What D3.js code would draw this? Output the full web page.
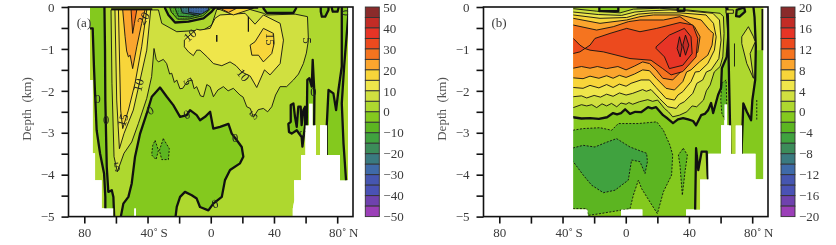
<!DOCTYPE html>
<meta charset="utf-8">
<script src="https://d3js.org/d3.v7.min.js"></script>
<style>
  html, body { margin: 0; background: #fff; }
  svg { display: block; font-family: "Liberation Serif", serif; filter: blur(0.3px); }
  .tick text { font-family: "Liberation Serif", serif; font-size: 13px; fill: #3a3a3a; }
</style>
<body>
<div id="graph"></div>
<script>
  // colour boxes of the bar, top to bottom
  var boxColors = ['#8a2b2b','#c32c26','#e73426','#ec4a1e','#f5741f','#fba52e','#f8d53a','#efe64b','#d0e040','#aed82f',
    '#84c91e','#5cb521','#40a23f','#3c8c5a','#3a7a80','#3f6aa8','#4656b0','#4a52b5','#6f42ae','#9b3fb8'];
  var barLabelsA = [50,40,30,20,10,0,-10,-20,-30,-40,-50];
  var barLabelsB = [20,16,12,8,4,0,-4,-8,-12,-16,-20];
  var depthTicks = [0,-0.5,-1,-1.5,-2,-2.5,-3,-3.5,-4,-4.5,-5];
  var latTicks = [-80,-60,-40,-20,0,20,40,60,80];

  // all contours below are [latitude, depth km]
  // panel (a)
  var aOcean = [[-76.4,0],[-76.4,-1.74],[-74.7,-1.74],[-74.7,-3.49],[-73.2,-3.49],[-73.2,-4.13],[-69,-4.13],[-69,-4.8],[-61.6,-4.8],[-61.6,-5],[-48.5,-5],[-48.5,-4.8],[-47.3,-4.8],[-47.3,-5],[51.9,-5],[51.9,-4.81],[52.9,-4.61],[52.7,-4.13],[57.1,-4.13],[57.1,-3.53],[59.9,-3.53],[59.9,-2.82],[62.2,-2.82],[62.2,-2.3],[64.5,-2.3],[64.5,-2.82],[66.6,-2.82],[66.6,-3.53],[69.2,-3.53],[69.2,-2.82],[73.6,-2.82],[73.6,-3.53],[81.8,-3.53],[81.8,-4.13],[86.9,-4.13],[86.9,0]];
  var aZeroWest = [[-80,0.1],[-80,-0.51],[-74.7,-0.51],[-73.9,-1.42],[-73.2,-2.06],[-72.2,-2.94],[-70,-3.5],[-67.5,-3.97],[-66.7,-4.53],[-66.7,-5.1],[-61,-5.1],[-61.6,-4.53],[-62.6,-4.37],[-64.8,-4.41],[-65.8,-3.81],[-66.7,-2.22],[-66.9,-1.03],[-67.3,0.1]];
  var aZeroDeep = [[-57.4,-5.1],[-55.3,-4.69],[-52.1,-4.53],[-50,-4.21],[-47.9,-3.57],[-44.7,-3.02],[-40.5,-2.54],[-37.3,-2.14],[-32.1,-1.92],[-27.8,-2.14],[-23.7,-2.34],[-19.4,-2.62],[-15.2,-2.58],[-13.1,-2.46],[-8.9,-2.58],[-6.8,-2.7],[-3.6,-2.62],[-0.4,-2.5],[1.6,-2.9],[5.9,-2.86],[11.2,-2.79],[13.3,-3.02],[16.5,-3.18],[19.6,-3.34],[20.6,-3.57],[18.5,-3.73],[12.2,-3.89],[9,-4.13],[7,-4.53],[1.6,-4.69],[-1.5,-4.85],[-6.8,-4.77],[-8.9,-4.57],[-12,-4.49],[-16.3,-4.41],[-19.4,-4.53],[-21.5,-4.77],[-22.6,-5.1]];
  var aPos5 = [[-63.1,-0.07],[-62.5,-1.82],[-61.2,-3.57],[-59.1,-3.93],[-54.9,-3.49],[-50,-3.22],[-45.8,-2.78],[-40.5,-2.18],[-37.4,-1.66],[-35.9,-0.99],[-34.5,-1.25],[-33.1,-1.31],[-30,-1.25],[-27.9,-1.35],[-26,-1.6],[-24.7,-1.58],[-23,-1.8],[-21.5,-1.74],[-19.5,-1.95],[-17.7,-1.94],[-15,-1.78],[-12,-1.74],[-10.5,-1.95],[-8.9,-1.9],[-6.5,-2.12],[-4.6,-2.14],[-2.5,-1.85],[-0.4,-1.9],[1.7,-2.14],[4.5,-1.98],[8,-1.9],[11,-2],[14.3,-1.94],[18.5,-2.1],[20.5,-2.15],[22.8,-2.38],[25,-2.42],[27,-2.63],[30,-2.45],[33.3,-2.42],[36,-2.5],[38.6,-2.38],[41,-2.1],[43.9,-1.9],[48,-1.9],[52.3,-1.74],[55.5,-1.6],[58.6,-1.35],[60.5,-1.1],[61.8,-0.79],[61.2,-0.23],[53.4,-0.17],[35.4,-0.19],[33.3,-0.15],[24.9,-0.06],[3.8,-0.06],[2.7,-0.19],[0.6,-0.43],[-4.6,-0.55],[-21.5,-0.59],[-31,-0.39],[-33.1,-0.07],[-36.3,-0.07]];
  var aPos10 = [[-60.6,-0.07],[-59.5,-2.22],[-57.8,-3.38],[-54.9,-3.02],[-49,-2.46],[-44.7,-1.74],[-40.5,-1.03],[-38,-0.07]];
  var aPos15 = [[-58.4,-0.07],[-57,-2.46],[-55.7,-2.9],[-52.1,-2.46],[-47.9,-1.82],[-43.7,-0.95],[-40.5,-0.07]];
  var aPos20 = [[-55.7,-0.07],[-54.2,-0.71],[-53.2,-1.05],[-52.1,-1.19],[-51,-1.15],[-49.4,-1.47],[-46.8,-0.95],[-43.7,-0.39],[-41.6,-0.07]];
  var aPos25 = [[-50.4,-0.07],[-49.4,-0.63],[-48.3,-0.39],[-46.8,-0.07]];
  var aPos10East = [[-16.7,-0.79],[-12,-0.63],[-8.9,-0.53],[-6.8,-0.55],[-0.4,-0.51],[2.7,-0.27],[5.9,-0.19],[14.3,-0.17],[21.7,-0.15],[28,-0.41],[33.3,-0.19],[43.9,-0.39],[46,-0.79],[43.9,-1.35],[37.5,-1.62],[34,-1.5],[29.1,-1.92],[25,-1.65],[19.6,-1.55],[16,-1.4],[12.2,-1.31],[7,-1.4],[1.7,-1.35],[-2,-1.2],[-6.8,-1.03],[-8.9,-1.03],[-11,-1.16],[-14.1,-1.07],[-16.7,-0.95]];
  var aPos15East = [[24.9,-0.91],[28,-0.83],[33.3,-0.51],[39.7,-0.63],[40.1,-0.87],[38.6,-1.11],[33.3,-1.31],[30.2,-1.15],[26,-1.15]];
  var aPos15Top = [[3.8,-0.03],[14.3,-0.19],[27,-0.03]];
  var aPos20Top = [[5.9,-0.03],[11.2,-0.13],[16.4,-0.03]];
  var aZeroPool = [[-29,0.1],[-28.9,-0.03],[-26.8,-0.19],[-22.6,-0.37],[-14.1,-0.35],[-4.6,-0.27],[0.6,-0.11],[2.7,-0.01],[3,0.1]];
  var aNeg5Pool = [[-27,0.1],[-25,-0.12],[-21,-0.29],[-14,-0.29],[-5,-0.21],[-0.5,-0.06],[0,0.1]];
  var aNeg10Pool = [[-24,0.1],[-20.5,-0.22],[-13,-0.24],[-6,-0.15],[-2,-0.02],[-1.5,0.1]];
  var aNeg20Pool = [[-20,0.1],[-18,-0.14],[-8,-0.2],[-3,-0.08],[-3,0.1]];
  var aNeg25Pool = [[-14,0.1],[-14,-0.13],[-6,-0.17],[-1.5,-0.07],[-1.5,0.1]];
  var aBlob1 = [[33.3,0.1],[33.3,-0.03],[35.4,-0.14],[52.3,-0.14],[54,-0.03],[54,0.1]];
  var aBlob2 = [[69.6,0.1],[69.6,-0.11],[70.3,-0.23],[72.4,-0.23],[74.5,-0.07],[74.5,0.1]];
  var aBlob3 = [[76.6,0.1],[76.6,-0.03],[77.2,-0.11],[80.2,-0.11],[80.8,-0.03],[80.8,0.1]];
  var aZeroEast = [[82.9,0.1],[82.9,-1.42],[80.8,-1.98],[79.3,-2.46],[77.6,-2.06],[74.5,-1.98],[73.4,-2.82],[73.4,-4.2],[85.6,-4.4],[85.6,-4.13],[84,-3.26],[82.9,-2.3],[84.4,-1.42],[87.1,-0.15],[87.1,0.1]];
  var aZeroSpike = [[61.1,-1.74],[62.4,-1.7],[63.9,-1.9],[64.5,-1.26],[65.6,-2.06],[65.4,-2.9],[60.7,-2.9]];
  var aZeroScribble = [[50.6,-2.34],[52.3,-2.3],[53.3,-2.62],[54.4,-2.86],[55.4,-2.38],[56.9,-2.38],[57.5,-2.82],[58.6,-2.46],[59.7,-2.38],[59.7,-2.82],[58,-3.33],[57.5,-3.1],[54.4,-2.94],[51.2,-3.02],[49.5,-2.98],[49.1,-2.79],[50.6,-2.74]];
  var aNegPatch1 = [[-35.2,-3.18],[-33.1,-3.42],[-34.6,-3.64],[-37.4,-3.53],[-36.7,-3.3]];
  var aNegPatch2 = [[-30,-3.14],[-26.2,-3.38],[-26.8,-3.64],[-31,-3.64],[-32.5,-3.42]];
  var aCap = [[-63,-0.05],[-37,-0.05]];
  var aCapEast = [[0,-0.02],[30,-0.02]];
  var aDash1 = [[3.8,-0.67],[3.8,-0.83]];
  var aDash2 = [[23.8,-0.23],[23.8,-0.59]];
  var aLabelText = ['20','10','15','0','0','0','5','5','10','0','15','10','5','5','0','0','0','5','0'];
  var aLabelPos = [[-42.6,-0.27],[-45.8,-1.86],[-55.7,-2.7],[-66.2,-2.68],[-71.5,-2.18],[-38.4,-2.46],[-59.5,-3.81],[-14.1,-1.77],[-13.1,-0.67],[-15.2,-2.56],[38,-0.77],[20.7,-1.62],[61.2,-0.8],[27,-2.58],[65,-2.02],[15.4,-3.12],[2.7,-4.69],[59,-3.02],[86,-0.14]];
  var aLabelTurn = [-60,-75,-75,0,0,-30,-10,60,-40,-20,90,50,90,-45,0,0,-20,90,90];

  // panel (b)
  var bOcean = [[87.1,0],[87.1,-4.11],[82.1,-4.11],[82.1,-3.5],[73.6,-3.5],[73.6,-2.82],[69.4,-2.82],[69.4,-3.5],[66.7,-3.5],[66.7,-2.82],[64.1,-2.82],[64.1,-2.32],[62.4,-2.32],[62.4,-2.82],[60.3,-2.82],[60.3,-3.5],[52.3,-3.5],[52.3,-4.11],[47,-4.11],[47,-4.83],[38.2,-4.83],[38.2,-5],[10.5,-5],[10.5,-4.83],[-3,-4.83],[-3,-5],[-24.1,-5],[-24.1,-4.83],[-33.2,-4.83],[-33.2,0]];
  var bZero = [[-40,0.1],[-40,-2.63],[-33.4,-2.63],[-28,-2.66],[-22.6,-2.65],[-17,-2.67],[-11.8,-2.63],[-8,-2.53],[-5.5,-2.56],[-3,-2.53],[-0.4,-2.44],[2.7,-2.55],[6,-2.5],[9.7,-2.51],[14.1,-2.39],[16.5,-2.42],[19.2,-2.39],[23.6,-2.58],[26.5,-2.66],[29.9,-2.77],[33,-2.68],[36.3,-2.65],[39.5,-2.68],[42.6,-2.72],[44.5,-2.82],[47.7,-2.58],[50,-2.55],[52.1,-2.46],[54,-2.29],[55.3,-2.53],[58.4,-2.1],[60.3,-1.93],[60.8,-1.46],[63.9,-1.19],[65,-0.63],[63.9,-0.07],[63,0.1]];
  var bPos2 = [[-40,-0.04],[-33.2,-0.04],[-18.4,-0.1],[-3.6,-0.14],[4.8,-0.05],[21.3,-0.03],[38.6,-0.07],[59.7,-0.15],[61.8,-0.23],[62.2,-0.63],[61.4,-1.19],[59.7,-1.42],[56,-1.55],[53.4,-1.86],[51,-2],[49.2,-2.22],[44.9,-2.38],[42,-2.36],[38.6,-2.5],[34,-2.58],[29.7,-2.62],[27,-2.5],[24.5,-2.42],[20.2,-2.22],[17,-2.25],[13.9,-2.21],[8.6,-2.26],[4.4,-2.32],[2,-2.28],[0.2,-2.32],[-3,-2.29],[-5.7,-2.38],[-9,-2.3],[-12.1,-2.36],[-15,-2.31],[-18.4,-2.4],[-21.5,-2.33],[-24.7,-2.36],[-28,-2.33],[-33.2,-2.4],[-40,-2.4]];
  var bPos4 = [[-40,-0.12],[-33.2,-0.12],[-17.4,-0.18],[-2.6,-0.2],[5.8,-0.12],[15.3,-0.09],[28,-0.07],[38.2,-0.09],[55.1,-0.15],[59.3,-0.31],[60.3,-0.79],[58.9,-1.23],[54,-1.5],[51,-1.55],[48.7,-1.74],[45,-1.82],[42.4,-2.06],[37.1,-2.26],[34,-2.32],[31.9,-2.42],[26.6,-2.38],[21.3,-2.18],[16,-1.97],[13,-2.01],[10.7,-1.97],[4.4,-2.06],[0.2,-2.1],[-4,-2.05],[-8,-2.13],[-12.1,-2.08],[-16,-2.15],[-20,-2.11],[-24.7,-2.17],[-28,-2.12],[-33.2,-2.14],[-40,-2.14]];
  var bPos6 = [[-40,-0.19],[-33.2,-0.19],[-16.3,-0.27],[0.6,-0.25],[8,-0.17],[17.5,-0.14],[34.3,-0.14],[50.8,-0.19],[55.5,-0.39],[57.2,-0.71],[56.1,-1.03],[51.9,-1.35],[46.6,-1.54],[44,-1.55],[41.3,-1.78],[36.1,-2.02],[33,-2.1],[30.8,-2.22],[25.5,-2.18],[19.2,-1.92],[15,-1.74],[9.7,-1.74],[3.4,-1.82],[0.2,-1.89],[-4,-1.84],[-8,-1.92],[-12.1,-1.85],[-17,-1.93],[-22.6,-1.87],[-27,-1.94],[-33.2,-1.92],[-40,-1.92]];
  var bPos8 = [[-40,-0.27],[-33.2,-0.27],[-16.3,-0.39],[0.6,-0.31],[9,-0.23],[17.5,-0.19],[34.3,-0.19],[47.7,-0.31],[53,-0.55],[55.5,-0.63],[54.6,-0.91],[51.9,-1.15],[46.6,-1.31],[41.3,-1.5],[38.5,-1.55],[36.1,-1.78],[30.8,-1.98],[25.5,-1.94],[19.2,-1.7],[15,-1.52],[10.7,-1.5],[5.5,-1.6],[0.2,-1.68],[-4,-1.63],[-8,-1.7],[-12.1,-1.64],[-17,-1.7],[-22.6,-1.65],[-27,-1.71],[-33.2,-1.69],[-40,-1.69]];
  var bPos10 = [[-40,-0.43],[-33.2,-0.43],[-18.4,-0.55],[-7.9,-0.47],[1.6,-0.35],[9,-0.31],[23.8,-0.31],[34.3,-0.23],[43.5,-0.47],[47,-0.71],[45.6,-1.07],[40.3,-1.31],[35,-1.54],[29.7,-1.74],[23.4,-1.7],[19.2,-1.5],[15,-1.35],[10.7,-1.31],[5.5,-1.41],[0.2,-1.5],[-5,-1.42],[-12.1,-1.47],[-18,-1.42],[-22.6,-1.46],[-28,-1.42],[-33.2,-1.46],[-40,-1.46]];
  var bPos12 = [[-40,-0.75],[-33.2,-0.75],[-29,-0.91],[-25.8,-0.99],[-22.6,-0.91],[-19.5,-0.75],[-10,-0.63],[0.6,-0.51],[9,-0.59],[19.6,-0.51],[34.3,-0.37],[42.4,-0.43],[45.6,-0.75],[44.5,-1.19],[36.1,-1.54],[28.7,-1.62],[23.4,-1.47],[16,-1.27],[2.7,-1.23],[-14.2,-1.07],[-22.6,-1.03],[-25.8,-0.99],[-29,-1.07],[-33.2,-1.11],[-40,-1.11]];
  var bPos14 = [[19.2,-0.95],[27.6,-0.67],[37.1,-0.51],[41.3,-0.71],[42,-1.11],[36.1,-1.39],[27.6,-1.47],[24.5,-1.19],[19.2,-0.99]];
  var bPos16a = [[34,-0.71],[35.6,-0.95],[34.4,-1.19],[32.5,-0.99]];
  var bPos16b = [[37.8,-0.67],[39.9,-0.91],[37.8,-1.15],[36.1,-0.91]];
  var bNeg2 = [[-40,-2.94],[-33.6,-2.94],[-26.9,-2.9],[-16.3,-2.88],[-8.9,-2.94],[-4.7,-2.78],[8,-2.78],[19.6,-2.74],[23.8,-2.94],[28,-3.3],[29.7,-3.53],[29,-4.01],[23.8,-4.41],[20,-4.93],[15.3,-4.65],[10,-4.33],[8,-4.13],[4.8,-4.49],[2.7,-4.81],[-3.6,-4.85],[-16.3,-4.93],[-23.7,-4.97],[-24.7,-4.81],[-40,-4.81]];
  var bNeg4 = [[-40,-3.36],[-33.2,-3.36],[-26.9,-3.3],[-19.5,-3.34],[-13.1,-3.24],[-5.8,-3.14],[2.7,-3.34],[13.2,-3.49],[13.7,-3.69],[12.2,-3.97],[9,-3.69],[3.7,-3.65],[1.6,-4.13],[-6.8,-4.37],[-14.2,-4.43],[-21.6,-4.25],[-26.9,-4.01],[-33.2,-3.69],[-40,-3.5]];
  var bLens = [[36.4,-3.37],[39,-3.53],[37.5,-3.93],[35.8,-4.49],[34.3,-3.77],[33.3,-3.53]];
  var bZeroM = [[43.8,-5.1],[44.5,-3.37],[45.9,-3.89],[48,-3.45],[51.2,-3.45],[51.8,-4.01],[52.5,-4.3],[52.5,-5.1]];
  var bNorthCap = [[82.3,-1.03],[87.1,-1.03],[87.1,0.1],[80.5,0.1],[81.5,-0.25]];
  var bNorth = [[64.1,0.1],[64.6,-0.23],[65.2,-1.42],[66,-2.86],[66.2,-3.65],[73.2,-3.65],[73.4,-3.33],[74.4,-2.3],[76.6,-2.5],[79.3,-2.7],[80.1,-2.22],[81.9,-1.74],[82.3,-0.95],[81.5,-0.25],[80.5,0.1]];
  var bInner2 = [[73.4,-0.71],[77.6,-0.47],[80.8,-0.71],[81.9,-0.83],[78.7,-1.11],[80.8,-1.7],[76.6,-1.35],[73.4,-0.87]];
  var bBlob = [[70.2,-0.07],[74.9,-0.01],[75.5,-0.11],[72,-0.23],[69.8,-0.22]];
  var bOval = [[63.5,-0.07],[68.1,-0.07],[68.1,-0.15],[63.5,-0.15]];
  var bPatch = [[60.8,-1.82],[63.5,-1.74],[63.9,-2.3],[62.9,-2.7],[60.8,-2.54],[60.1,-2.22]];
  var bBox1 = [[-16.7,0.1],[-16.7,-0.1],[-4.7,-0.1],[-4.7,0.1]];
  var bBox2 = [[32.9,0.1],[32.9,-0.09],[37.1,-0.09],[37.1,0.1]];
  var bEdge = [[86.5,-0.05],[86.5,-1.03]];
  var bTop = [[6.9,-0.01],[34.3,-0.01]];
  var bDash = [[68.8,-0.87],[68.8,-1.42]];
  var bDots = [[82.9,-2.22],[82.9,-2.7]];

  // kinds of contour: thick zero line, plain line, dashed negative line
  var zero = { w: 2.3 }, plain = { w: 0.9 }, nega = { w: 0.9, dash: "2,1.5" };

  var layersA = [
    [aZeroWest,10,zero],[aZeroDeep,10,zero],[aNegPatch1,11,nega],[aNegPatch2,11,nega],
    [aPos5,8,plain],[aPos10,7,plain],[aPos15,6,plain],[aPos20,5,plain],[aPos25,4,plain],
    [aPos10East,7,plain],[aPos15East,6,plain],[aPos15Top,6,plain],[aPos20Top,5,plain],
    [aZeroPool,10,zero],[aNeg5Pool,11,plain],[aNeg10Pool,12,plain],[aNeg20Pool,14,plain],[aNeg25Pool,15,plain],
    [aBlob1,10,zero],[aBlob2,10,zero],[aBlob3,10,zero],
    [aZeroEast,10,zero],[aZeroSpike,10,zero],[aZeroScribble,10,zero]
  ];
  var linesA = [[aCap,1.8,null],[aCapEast,1.8,null],[aDash1,1.4,null],[aDash2,1.2,null]];

  var layersB = [
    [bNeg2,11,nega],[bNeg4,12,nega],[bLens,11,nega],[bPatch,11,nega],
    [bZero,9,zero],[bPos2,8,plain],[bPos4,7,plain],[bPos6,6,plain],[bPos8,5,plain],[bPos10,4,plain],[bPos12,3,plain],[bPos14,2,plain],[bPos16a,1,plain],[bPos16b,1,plain],
    [bBox1,10,zero],[bBox2,10,zero],
    [bZeroM,9,zero],[bNorthCap,9,{ w: 0 }],[bNorth,9,zero],[bInner2,8,plain],[bBlob,10,zero],[bOval,8,plain]
  ];
  var linesB = [[bEdge,2,null],[bTop,1.8,null],[bDash,0.9,null],[bDots,0.9,"2,1.5"]];

  var width = 836, height = 245;
  var svg = d3.select("#graph").append("svg").attr("width", width).attr("height", height);
  var top0 = 7, bottom0 = 216.6, panelW = 284.5;

  var stip = svg.append("defs").append("pattern").attr("id", "stip")
    .attr("width", 2.5).attr("height", 2.5).attr("patternUnits", "userSpaceOnUse");
  stip.append("circle").attr("cx", 1).attr("cy", 1).attr("r", 0.55).attr("fill", "#1d2b22");

  function minus(v) { return String(v).replace("-", "\u2212"); }

  function drawPanel(id, left, ocean, base, layers, lines, name) {
    var x = d3.scaleLinear().domain([-90, 90]).range([left, left + panelW]);
    var y = d3.scaleLinear().domain([0, -5]).range([top0, bottom0]);
    var line = d3.line().x(function (d) { return x(d[0]); }).y(function (d) { return y(d[1]); });
    var closed = function (pts) { return line(pts) + "Z"; };

    svg.select("defs").append("clipPath").attr("id", "ocean" + id).append("path").attr("d", closed(ocean));

    var g = svg.append("g").attr("clip-path", "url(#ocean" + id + ")");
    g.append("path").attr("d", closed(ocean)).attr("fill", boxColors[base]);
    g.selectAll(".band").data(layers).enter().append("path")
      .attr("d", function (d) { return closed(d[0]); })
      .attr("fill", function (d) { return boxColors[d[1]]; })
      .attr("stroke", "#111")
      .attr("stroke-width", function (d) { return d[2].w; })
      .attr("stroke-dasharray", function (d) { return d[2].dash || null; })
      .attr("stroke-linejoin", "round");
    g.selectAll(".extra").data(lines).enter().append("path")
      .attr("d", function (d) { return line(d[0]); })
      .attr("fill", "none").attr("stroke", "#111")
      .attr("stroke-width", function (d) { return d[1]; })
      .attr("stroke-dasharray", function (d) { return d[2]; });
    if (id === "a") {
      g.append("path").attr("d", closed(aNeg5Pool)).attr("fill", "url(#stip)");
      g.selectAll(".clabel").data(aLabelText).enter().append("text")
        .attr("transform", function (d, i) {
          return "translate(" + x(aLabelPos[i][0]) + "," + y(aLabelPos[i][1]) + ") rotate(" + aLabelTurn[i] + ")";
        })
        .attr("text-anchor", "middle").attr("dy", "0.35em")
        .attr("font-size", 12.5).attr("fill", "#222")
        .text(function (d) { return d; });
    }

    // axes
    var yAxis = d3.axisLeft(y).tickValues(depthTicks).tickSize(7).tickPadding(7)
      .tickFormat(function (d) { return Number.isInteger(d) ? minus(d) : ""; });
    var xAxis = d3.axisBottom(x).tickValues(latTicks).tickSize(7).tickPadding(4)
      .tickFormat(function (d) {
        if (d === -40) return "40\u02da\u2009S";
        if (d === 80) return "80\u02da\u2009N";
        return (d === -80 || d === 0 || d === 40) ? Math.abs(d) : "";
      });
    var gy = svg.append("g").attr("transform", "translate(" + left + ",0)").call(yAxis);
    var gx = svg.append("g").attr("transform", "translate(0," + bottom0 + ")").call(xAxis);
    gy.select(".domain").remove();
    gx.select(".domain").remove();
    gy.selectAll(".tick line").attr("stroke", "#111").attr("stroke-width", 1.6);
    gx.selectAll(".tick line").attr("stroke", "#111").attr("stroke-width", 1.6);
    gx.selectAll(".tick text").filter(function (d) { return d === -40 || d === 80; }).attr("dx", 6);

    svg.append("rect").attr("x", left).attr("y", top0).attr("width", panelW).attr("height", bottom0 - top0)
      .attr("fill", "none").attr("stroke", "#111").attr("stroke-width", 1.6);

    svg.append("text").attr("x", left + 15.5).attr("y", 27).attr("font-size", 13).attr("text-anchor", "middle")
      .attr("fill", "#3a3a3a").text(name);
    svg.append("text").attr("transform", "translate(" + (left - 37.5) + ",109) rotate(-90)")
      .attr("text-anchor", "middle").attr("font-size", 13).attr("fill", "#555").text("Depth\u00a0\u00a0(km)");
  }

  function drawBar(left, labels) {
    var w = 14;
    var pos = d3.scaleLinear().domain([0, 20]).range([top0, bottom0]);
    svg.append("g").selectAll("rect").data(boxColors).enter().append("rect")
      .attr("x", left).attr("y", function (d, i) { return pos(i); })
      .attr("width", w).attr("height", pos(1) - pos(0))
      .attr("fill", function (d) { return d; })
      .attr("stroke", "#333").attr("stroke-width", 0.9);
    var scale = d3.scaleLinear().domain([labels[0], labels[labels.length - 1]]).range([top0, bottom0]);
    var axis = d3.axisRight(scale).tickValues(labels).tickSize(0).tickPadding(4).tickFormat(minus);
    var g = svg.append("g").attr("transform", "translate(" + (left + w) + ",0)").call(axis);
    g.select(".domain").remove();
  }

  drawPanel("a", 68.5, aOcean, 9, layersA, linesA, "(a)");
  drawPanel("b", 483.5, bOcean, 10, layersB, linesB, "(b)");
  drawBar(365.3, barLabelsA);
  drawBar(781, barLabelsB);
</script>
</body>
